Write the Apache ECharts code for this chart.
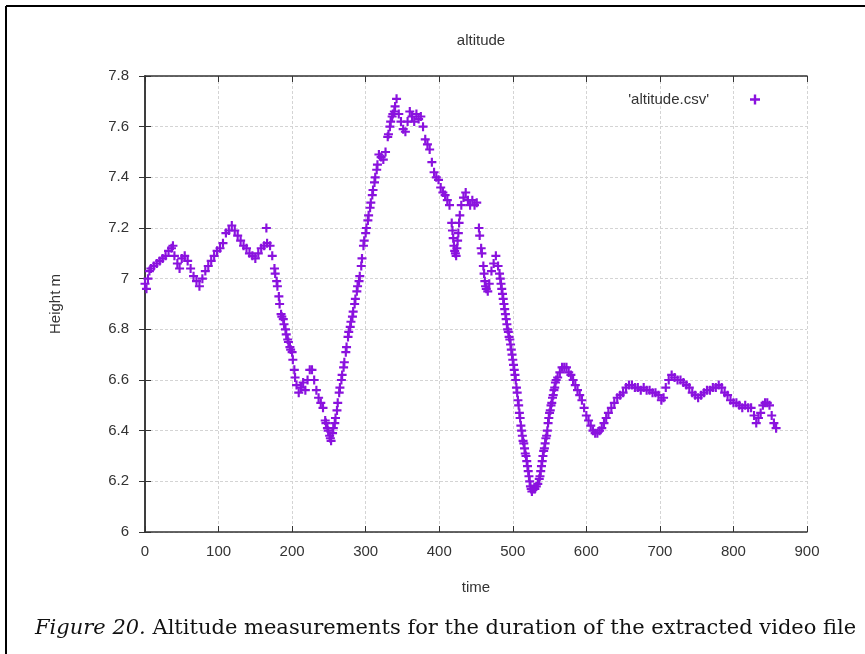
<!DOCTYPE html>
<html><head><meta charset="utf-8">
<script src="https://cdn.jsdelivr.net/npm/echarts@6/dist/echarts.min.js"></script>
<style>html,body{margin:0;padding:0;background:#fff}#c{width:865px;height:654px}</style>
</head><body><div id="c"></div>
<script>
const chartTitle = 'altitude';
const seriesName = "'altitude.csv'";
const xTicks = [0,100,200,300,400,500,600,700,800,900];
const yTicks = [6,6.2,6.4,6.6,6.8,7,7.2,7.4,7.6,7.8];
const times = [0,2,4,6,8,12,16,20,24,28,32,36,38,40,44,47,50,54,58,62,66,70,74,78,82,86,90,94,98,102,106,110,114,118,122,126,130,134,138,142,146,150,154,158,162,165,166,170,173,176,179,182,185,188,191,194,197,200,203,206,209,212,215,218,221,224,227,230,233,236,239,242,245,248,251,253,255,258,261,264,267,270,273,276,279,282,285,288,291,294,297,300,303,306,309,312,315,318,321,324,327,330,333,336,339,342,345,348,351,354,357,360,363,366,369,372,375,378,381,384,387,390,393,396,399,402,405,408,411,414,417,419,421,423,425,427,430,433,436,439,442,445,448,451,454,457,460,462,464,466,468,471,474,477,480,482,484,486,488,490,492,494,496,498,500,502,504,506,508,510,512,514,516,518,520,522,524,526,528,530,532,534,536,538,540,542,544,546,548,550,552,554,556,558,561,564,567,570,573,576,579,582,585,588,591,594,597,600,603,606,609,612,615,618,621,624,627,630,634,638,642,646,650,654,658,662,666,670,674,678,682,686,690,694,698,702,705,708,712,716,720,724,728,732,736,740,744,748,752,756,760,764,768,772,776,780,784,788,792,796,800,804,808,812,816,820,824,828,831,834,837,840,843,846,849,852,855,858];
const heights = [6.98,6.96,7.0,7.03,7.04,7.05,7.06,7.07,7.08,7.09,7.11,7.12,7.13,7.09,7.06,7.04,7.08,7.09,7.07,7.04,7.01,6.99,6.97,7.0,7.03,7.05,7.07,7.09,7.11,7.12,7.14,7.18,7.19,7.21,7.19,7.17,7.15,7.13,7.12,7.1,7.09,7.08,7.1,7.12,7.13,7.2,7.14,7.13,7.09,7.04,6.99,6.93,6.86,6.84,6.8,6.76,6.73,6.71,6.64,6.58,6.55,6.57,6.59,6.56,6.6,6.64,6.64,6.6,6.56,6.53,6.51,6.49,6.44,6.41,6.38,6.36,6.39,6.43,6.48,6.55,6.6,6.65,6.71,6.77,6.81,6.85,6.9,6.95,6.99,7.05,7.13,7.18,7.23,7.28,7.33,7.38,7.43,7.49,7.48,7.47,7.5,7.56,7.6,7.64,7.66,7.71,7.65,7.62,7.59,7.58,7.62,7.66,7.64,7.62,7.65,7.63,7.64,7.6,7.55,7.53,7.51,7.46,7.42,7.4,7.39,7.36,7.34,7.33,7.31,7.29,7.22,7.16,7.11,7.09,7.15,7.22,7.29,7.32,7.34,7.31,7.29,7.31,7.29,7.3,7.2,7.12,7.05,6.99,6.96,6.95,6.98,7.03,7.06,7.09,7.05,7.02,6.98,6.94,6.9,6.86,6.82,6.79,6.76,6.72,6.68,6.64,6.6,6.55,6.5,6.45,6.4,6.36,6.33,6.3,6.26,6.22,6.18,6.16,6.17,6.17,6.18,6.19,6.21,6.24,6.28,6.32,6.35,6.38,6.43,6.47,6.5,6.53,6.56,6.59,6.61,6.63,6.65,6.65,6.65,6.63,6.62,6.6,6.58,6.56,6.54,6.52,6.49,6.46,6.44,6.42,6.4,6.39,6.39,6.4,6.41,6.43,6.45,6.47,6.49,6.51,6.53,6.54,6.55,6.57,6.58,6.58,6.57,6.57,6.56,6.57,6.56,6.56,6.55,6.55,6.54,6.52,6.53,6.57,6.6,6.62,6.61,6.6,6.6,6.59,6.58,6.57,6.55,6.54,6.53,6.54,6.55,6.56,6.56,6.57,6.57,6.58,6.57,6.55,6.54,6.52,6.51,6.51,6.5,6.49,6.5,6.49,6.49,6.46,6.43,6.45,6.47,6.5,6.51,6.51,6.5,6.46,6.43,6.41];
// additional samples read in the steep parts of the trace
const timesSteep = [177,180,183,186,189,192,195,198,201,204,246,249,252,256,259,262,265,268,271,274,277,280,283,286,289,292,295,298,301,304,307,310,313,316,331,334,337,340,418,420,422,424,426,428,455,458,461,463,483,485,487,489,491,493,495,497,499,501,503,505,507,509,511,513,515,517,519,521,523,525,537,539,541,543,545,547,549,551,553,555,557,559];
const heightsSteep = [7.02,6.97,6.9,6.85,6.82,6.78,6.75,6.72,6.68,6.61,6.43,6.4,6.37,6.41,6.45,6.51,6.57,6.62,6.67,6.73,6.79,6.83,6.87,6.92,6.97,7.01,7.08,7.15,7.2,7.25,7.3,7.35,7.4,7.45,7.57,7.62,7.65,7.68,7.19,7.13,7.1,7.12,7.18,7.25,7.17,7.1,7.02,6.97,7.0,6.96,6.92,6.88,6.84,6.8,6.77,6.74,6.7,6.66,6.62,6.57,6.52,6.47,6.42,6.38,6.35,6.31,6.28,6.24,6.2,6.17,6.22,6.26,6.3,6.33,6.37,6.4,6.45,6.48,6.51,6.54,6.57,6.6];
const captionItalic = 'Figure 20.';
const captionText = ' Altitude measurements for the duration of the extracted video file';

const purple = '#8a12de';
const plus = 'path://M3.8,0h2.4v3.8h3.8v2.4h-3.8v3.8h-2.4v-3.8h-3.8v-2.4h3.8z';
const data = times.map((t, i) => [t, heights[i]])
  .concat(timesSteep.map((t, i) => [t, heightsSteep[i]]));
const lblFont = {fontFamily: 'Liberation Sans', fontSize: 15, color: '#333'};
const axisLine = {show: true, lineStyle: {color: '#333', width: 1.5}};
const tick = {show: true, inside: true, length: 6, lineStyle: {color: '#333'}};
const gridLine = {show: true, lineStyle: {color: '#d4d4d4', width: 1, type: [3, 2]}};

const chart = echarts.init(document.getElementById('c'));
chart.setOption({
  backgroundColor: '#fff',
  animation: false,
  title: {text: chartTitle, left: 476, top: 28, textAlign: 'center',
    textStyle: {fontFamily: 'Liberation Sans', fontSize: 15, fontWeight: 'normal', color: '#333'}},
  legend: {right: 100, top: 87, align: 'right', itemWidth: 10, itemHeight: 10,
    data: [{name: seriesName, icon: plus}],
    formatter: n => '{t|' + n + '}{s|}',
    textStyle: {rich: {t: {fontFamily: 'Liberation Sans', fontSize: 15, color: '#333'}, s: {width: 36}}}},
  grid: {left: 145, right: 58, top: 76, bottom: 122, containLabel: false},
  xAxis: [
    {type: 'value', min: 0, max: 900, interval: 100, position: 'bottom',
     name: 'time', nameLocation: 'middle', nameGap: 48, nameTextStyle: lblFont,
     axisLine: axisLine, axisTick: tick, splitLine: gridLine,
     axisLabel: Object.assign({margin: 12, formatter: v => xTicks.includes(v) ? String(v) : ''}, lblFont)},
    {type: 'value', min: 0, max: 900, interval: 100, position: 'top',
     axisLine: axisLine, axisTick: tick, splitLine: {show: false}, axisLabel: {show: false}}
  ],
  yAxis: [
    {type: 'value', min: 6, max: 7.8, interval: 0.2, position: 'left',
     name: 'Height m', nameLocation: 'middle', nameGap: 82, nameRotate: 90, nameTextStyle: lblFont,
     axisLine: axisLine, axisTick: tick, splitLine: gridLine,
     axisLabel: Object.assign({margin: 16, formatter: v => {
       const r = Math.round(v * 10) / 10; return yTicks.includes(r) ? String(r) : ''; }}, lblFont)},
    {type: 'value', min: 6, max: 7.8, interval: 0.2, position: 'right',
     axisLine: axisLine, axisTick: tick, splitLine: {show: false}, axisLabel: {show: false}}
  ],
  series: [{
    name: seriesName, type: 'scatter', data: data, symbol: plus, symbolSize: 9,
    itemStyle: {color: purple, opacity: 1}, xAxisIndex: 0, yAxisIndex: 0
  }],
  graphic: [
    {type: 'line', shape: {x1: 6, y1: 6, x2: 865, y2: 6}, style: {stroke: '#000', lineWidth: 2}},
    {type: 'line', shape: {x1: 6, y1: 6, x2: 6, y2: 654}, style: {stroke: '#000', lineWidth: 2}},
    {type: 'text', left: 35, top: 618, style: {
      rich: {i: {fontFamily: 'DejaVu Serif', fontStyle: 'italic', fontSize: 21, fill: '#111'},
             n: {fontFamily: 'DejaVu Serif', fontSize: 21, fill: '#111'}},
      text: '{i|' + captionItalic + '}{n|' + captionText + '}'}}
  ]
});
</script></body></html>
